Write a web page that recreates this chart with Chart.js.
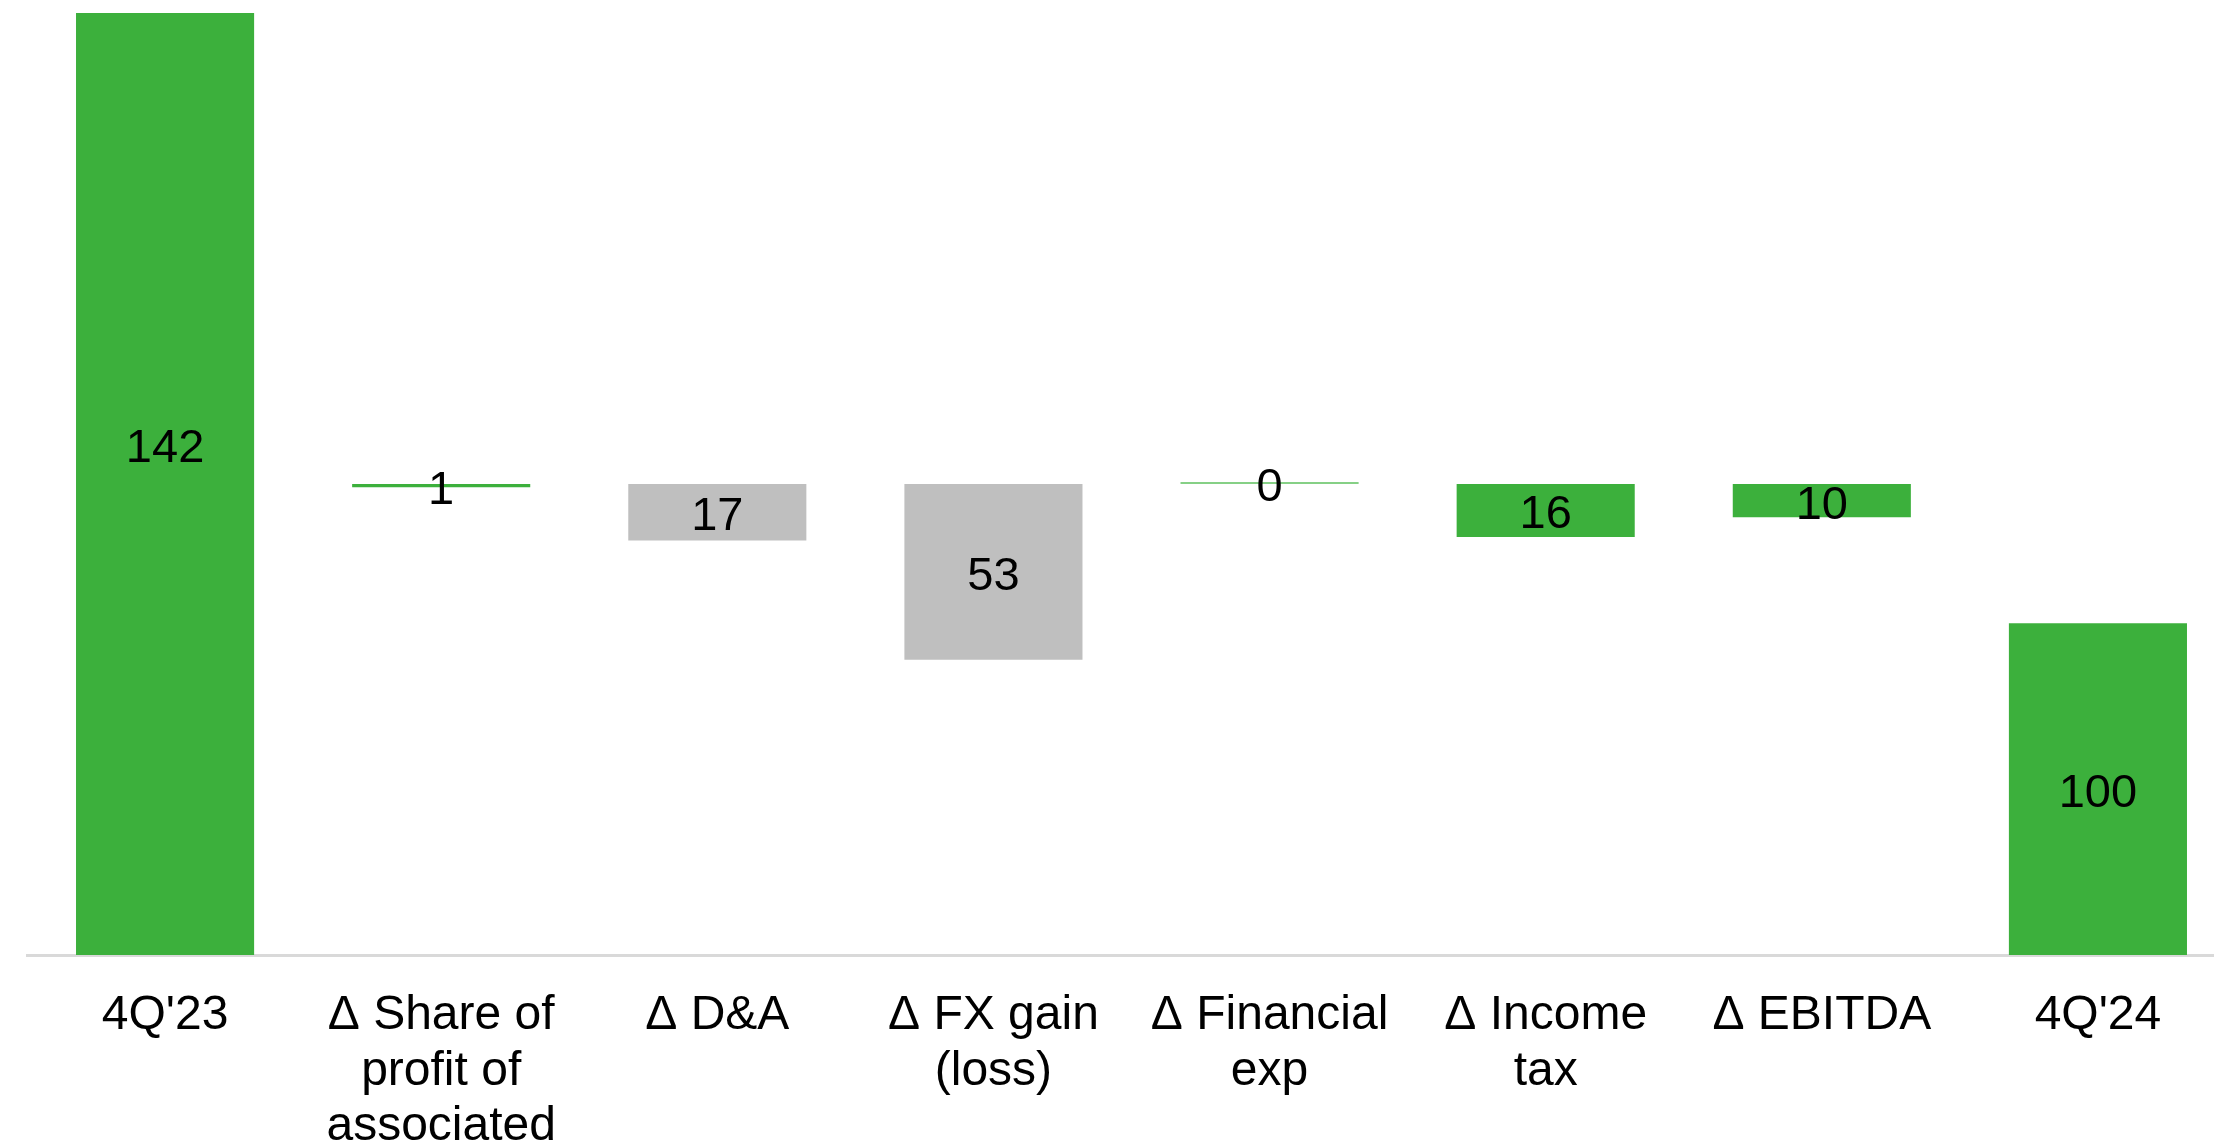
<!DOCTYPE html>
<html><head><meta charset="utf-8">
<script src="https://cdn.jsdelivr.net/npm/chart.js@4"></script>
<style>
html,body{margin:0;padding:0;background:#fff;overflow:hidden;width:2214px;height:1148px}
#wrap{width:2240px;height:1148px;position:relative}
</style>
</head><body><div id="wrap"><canvas id="c"></canvas></div>
<script>
// ---- data ----
const categories = [["4Q'23"], ["Δ Share of", "profit of", "associated"], ["Δ D&A"], ["Δ FX gain", "(loss)"], ["Δ Financial", "exp"], ["Δ Income", "tax"], ["Δ EBITDA"], ["4Q'24"]];
const labelValues = [142, 1, 17, 53, 0, 16, 10, 100];
const barStart = [0, 141, 125, 89, 142, 126, 132, 0];
const barEnd = [308, 142, 142, 142, 142, 142, 142, 100];
const yMin = 0, yMax = 284;

// ---- style ----
const GREEN = '#3cb03c', GRAY = '#bfbfbf', LIGHTGREEN = '#86d086';
const barColors = [GREEN, GREEN, GRAY, GRAY, LIGHTGREEN, GREEN, GREEN, GREEN];
const FONT = 'Liberation Sans, Arial, sans-serif';

const valueLabels = {
  id: 'valueLabels',
  afterDatasetsDraw(chart) {
    const ctx = chart.ctx;
    const meta = chart.getDatasetMeta(0);
    ctx.save();
    ctx.font = '47px ' + FONT;
    ctx.fillStyle = '#000';
    ctx.textAlign = 'center';
    ctx.textBaseline = 'middle';
    meta.data.forEach((el, i) => {
      const y = (el.y + el.base) / 2;
      ctx.fillText(String(labelValues[i]), el.x, y + 5);
    });
    ctx.restore();
  }
};

new Chart(document.getElementById('c'), {
  type: 'bar',
  data: {
    labels: categories,
    datasets: [{
      data: categories.map((_, i) => [barStart[i], barEnd[i]]),
      backgroundColor: barColors,
      borderWidth: 0,
      minBarLength: 2,
      barPercentage: 0.645,
      categoryPercentage: 1,
      clip: 0
    }]
  },
  options: {
    responsive: true,
    maintainAspectRatio: false,
    animation: false,
    layout: { padding: { top: 13, left: 27, right: 4, bottom: 0 } },
    plugins: { legend: { display: false }, tooltip: { enabled: false } },
    scales: {
      x: {
        grid: { display: false, drawTicks: false },
        border: { display: true, color: '#d9d9d9', width: 3 },
        ticks: { color: '#000', font: { family: FONT, size: 48, lineHeight: 1.16 }, padding: 33, maxRotation: 0, autoSkip: false },
        afterFit: s => { s.height = 193; }
      },
      y: { display: false, min: yMin, max: yMax }
    }
  },
  plugins: [valueLabels]
});
</script>
</body></html>
